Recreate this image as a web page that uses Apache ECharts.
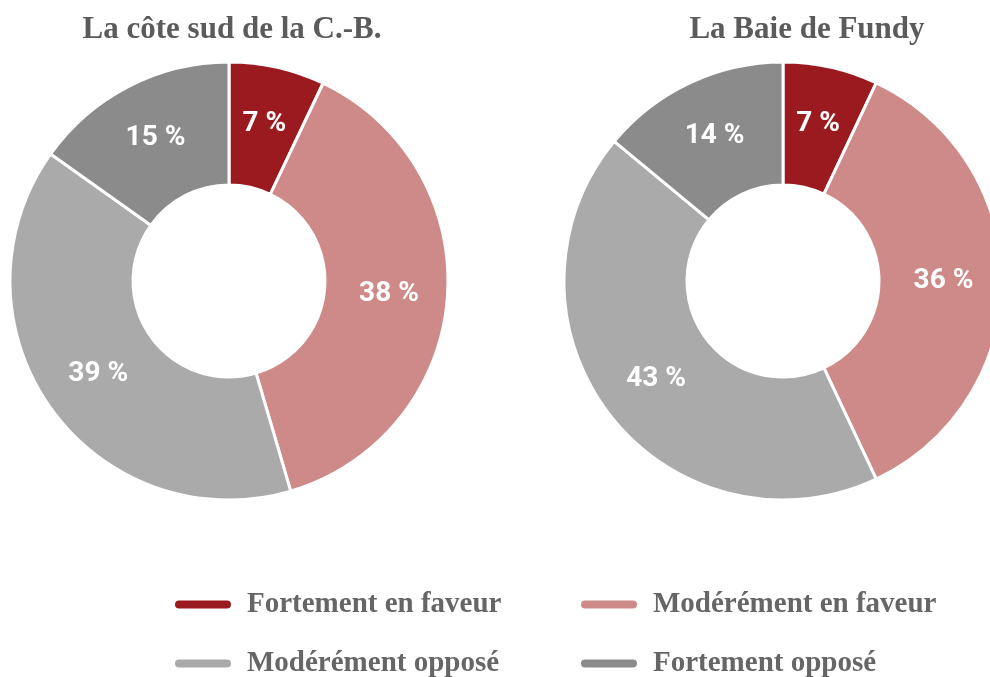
<!DOCTYPE html>
<html>
<head>
    <meta charset="UTF-8">
    <title>Donuts</title>
    <script type="text/javascript" src="https://cdn.jsdelivr.net/npm/echarts@6/dist/echarts.min.js"></script>
    <style>
        body { margin: 0; background: #fff; }
        #chart { width: 990px; height: 677px; }
    </style>
</head>
<body>
<div id="chart"></div>
<script type="text/javascript">
    // categories and values
    var categories = ['Fortement en faveur', 'Modérément en faveur', 'Modérément opposé', 'Fortement opposé'];
    var colors = ['#9b1a1f', '#cd8a89', '#aaaaaa', '#8b8b8b'];
    var titles = ['La côte sud de la C.-B.', 'La Baie de Fundy'];
    var coteSud = [7, 38, 39, 15];
    var fundy = [7, 36, 43, 14];

    function toData(values) {
        var out = [];
        for (var i = 0; i < values.length; i++) {
            out.push({ name: categories[i], value: values[i], itemStyle: { color: colors[i] } });
        }
        return out;
    }

    function pieSeries(values, cx) {
        return {
            type: 'pie',
            center: [cx, 281],
            radius: [96, 219],
            startAngle: 90,
            clockwise: true,
            avoidLabelOverlap: false,
            itemStyle: { borderColor: '#fff', borderWidth: 3 },
            label: {
                show: true,
                position: 'inside',
                formatter: '{c} %',
                color: '#fff',
                fontFamily: 'Roboto',
                fontWeight: 'bold',
                fontSize: 28
            },
            labelLine: { show: false },
            emphasis: { disabled: true },
            data: toData(values)
        };
    }

    // icône en forme de pilule
    var pill = 'path://M5,0 L53,0 A5,5 0 0 1 53,10 L5,10 A5,5 0 0 1 5,0 Z';
    var legendText = { color: '#666', fontFamily: 'Liberation Serif', fontSize: 29, fontWeight: 'bold', padding: [0, 0, 0, 10] };
    // positions des quatre entrées de la légende
    var legendPos = [[173, 590], [579, 590], [173, 649], [579, 649]];
    var legends = [];
    for (var k = 0; k < categories.length; k++) {
        legends.push({
            data: [categories[k]],
            left: legendPos[k][0],
            top: legendPos[k][1],
            padding: 0,
            icon: pill,
            itemWidth: 58,
            itemHeight: 10,
            selectedMode: false,
            textStyle: legendText
        });
    }

    var titleStyle = { color: '#5b5b5b', fontFamily: 'Liberation Serif', fontSize: 31, fontWeight: 'bold' };
    var myChart = echarts.init(document.getElementById('chart'));
    var option = {
        animation: false,
        title: [
            { text: titles[0], left: 227, top: 9, textAlign: 'center', textStyle: titleStyle },
            { text: titles[1], left: 802, top: 9, textAlign: 'center', textStyle: titleStyle }
        ],
        legend: legends,
        series: [pieSeries(coteSud, 229), pieSeries(fundy, 783)]
    };
    myChart.setOption(option);
</script>
</body>
</html>
